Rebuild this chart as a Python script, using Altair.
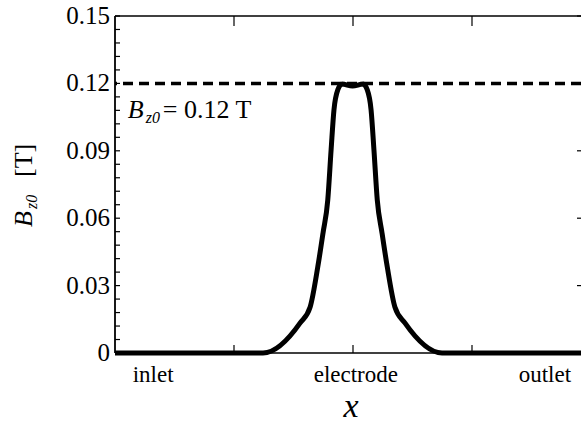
import altair as alt
import pandas as pd

# Curve B_z0(x): x in channel units (electrode centre at 0.5), B in tesla
x_vals = [0.0, 0.311, 0.389, 0.410, 0.426, 0.437, 0.447, 0.454, 0.460, 0.468, 0.477,
          0.499, 0.521, 0.530, 0.538, 0.544, 0.551, 0.561, 0.572, 0.588, 0.609, 0.687, 0.979]
b_vals = [0.0, 0.0, 0.0134, 0.0205, 0.0383, 0.0534, 0.0681, 0.0904, 0.1082, 0.1171, 0.1197,
          0.1188, 0.1197, 0.1171, 0.1082, 0.0904, 0.0681, 0.0534, 0.0383, 0.0205, 0.0134, 0.0, 0.0]

b_ref = [0.12]
frame_b = [0.0, 0.15]
frame_x = [0.0]
y_major = [0.0, 0.03, 0.06, 0.09, 0.12, 0.15]
y_labels = ["0", "0.03", "0.06", "0.09", "0.12", "0.15"]
y_minor = [round(i * 0.006, 3) for i in range(26)]
x_ticks = [0.25, 0.5, 0.75]
region_labels = ["inlet", "electrode", "outlet"]
region_pos = [0.08, 0.506, 0.903]
annot_x = [0.027]
annot_b = [0.1046]

W, H = 466, 337
X0, X1 = 0.0, 0.979
PX = W / (X1 - X0)          # pixels per x unit
FONT = "Liberation Serif, Times New Roman, serif"


def xs():
    return alt.Scale(domain=[X0, X1], nice=False, zero=False)


def ys():
    return alt.Scale(domain=[0, 0.15], nice=False)


def XF(field):
    return alt.X(field, scale=xs(), axis=None)


def YF(field):
    return alt.Y(field, scale=ys(), axis=None)


one = pd.DataFrame({"d": [0]})
curve = pd.DataFrame({"x": x_vals, "b": b_vals})

line = alt.Chart(curve).mark_line(color="black", strokeWidth=5, interpolate="monotone").encode(
    x=XF("x:Q"), y=YF("b:Q"))

dash = alt.Chart(pd.DataFrame({"b": b_ref})).mark_rule(
    color="black", strokeWidth=3.5, strokeDash=[10, 6]).encode(y=YF("b:Q"))

borders = alt.Chart(pd.DataFrame({"b": frame_b})).mark_rule(
    color="black", strokeWidth=1.5).encode(y=YF("b:Q"))
left_border = alt.Chart(pd.DataFrame({"x": frame_x})).mark_rule(
    color="black", strokeWidth=1.8).encode(x=XF("x:Q"))

# y tick labels
ylab = alt.Chart(pd.DataFrame({"v": y_major, "t": y_labels})).mark_text(
    font=FONT, fontSize=25, color="black", align="right", baseline="middle", dx=-5).encode(
    y=YF("v:Q"), x=alt.value(0), text="t:N")

# inward y ticks (left: all minor, right: major only)
lt = pd.DataFrame({"v": y_minor})
lt["x0"] = X0
lt["x1"] = X0 + 5 / PX
left_ticks = alt.Chart(lt).mark_rule(color="black", strokeWidth=1.2).encode(
    y=YF("v:Q"), x=XF("x0:Q"), x2="x1:Q")
rt = pd.DataFrame({"v": y_major})
rt["x0"] = X1 - 4 / PX
rt["x1"] = X1
right_ticks = alt.Chart(rt).mark_rule(color="black", strokeWidth=1.2).encode(
    y=YF("v:Q"), x=XF("x0:Q"), x2="x1:Q")

xtick_df = pd.DataFrame({"v": x_ticks})
top_ticks = alt.Chart(xtick_df).mark_rule(color="black", strokeWidth=1.2).encode(
    x=XF("v:Q"), y=alt.value(0), y2=alt.value(10))
bottom_ticks = alt.Chart(xtick_df).mark_rule(color="black", strokeWidth=1.2).encode(
    x=XF("v:Q"), y=alt.value(H), y2=alt.value(H - 8))

region_df = pd.DataFrame({"label": region_labels, "pos": region_pos})
region_text = alt.Chart(region_df).mark_text(
    font=FONT, fontSize=23, color="black", align="center", baseline="alphabetic").encode(
    x=XF("pos:Q"), y=alt.value(H + 29), text="label:N")

x_title = alt.Chart(one).mark_text(font=FONT, fontSize=34, fontStyle="italic", color="black",
                                   align="center", baseline="alphabetic", text="x").encode(
    x=alt.value(236), y=alt.value(H + 64))

# y-axis title  B_z0 [T]  (rotated)
yt_B = alt.Chart(one).mark_text(font=FONT, fontSize=26, fontStyle="italic", color="black",
                                align="left", baseline="alphabetic", angle=270, text="B").encode(
    x=alt.value(-83), y=alt.value(211))
yt_sub = alt.Chart(one).mark_text(font=FONT, fontSize=16, fontStyle="italic", color="black",
                                  align="left", baseline="alphabetic", angle=270, text="z0").encode(
    x=alt.value(-78), y=alt.value(193))
yt_T = alt.Chart(one).mark_text(font=FONT, fontSize=26, color="black",
                                align="left", baseline="alphabetic", angle=270, text="[T]").encode(
    x=alt.value(-83), y=alt.value(161))

# annotation  B_z0 = 0.12 T
annot = pd.DataFrame({"x": annot_x, "b": annot_b})
an_B = alt.Chart(annot).mark_text(font=FONT, fontSize=26, fontStyle="italic", color="black",
                                  align="left", baseline="alphabetic", text="B").encode(
    x=XF("x:Q"), y=YF("b:Q"))
an_sub = alt.Chart(annot).mark_text(font=FONT, fontSize=16, fontStyle="italic", color="black",
                                    align="left", baseline="alphabetic", dx=18, dy=5, text="z0").encode(
    x=XF("x:Q"), y=YF("b:Q"))
an_rest = alt.Chart(annot).mark_text(font=FONT, fontSize=26, color="black",
                                     align="left", baseline="alphabetic", dx=35, text="= 0.12 T").encode(
    x=XF("x:Q"), y=YF("b:Q"))

chart = alt.layer(
    line, borders, left_border, left_ticks, right_ticks, top_ticks, bottom_ticks,
    dash, ylab, region_text, x_title, yt_B, yt_sub, yt_T, an_B, an_sub, an_rest,
).properties(
    width=W, height=H,
    autosize=alt.AutoSizeParams(type="none"),
    padding={"left": 115, "top": 16, "right": 0, "bottom": 70},
    background="white",
).configure_view(stroke="transparent").configure_text(font=FONT)

chart.save("out.html", embed_options={"renderer": "svg", "actions": False})
